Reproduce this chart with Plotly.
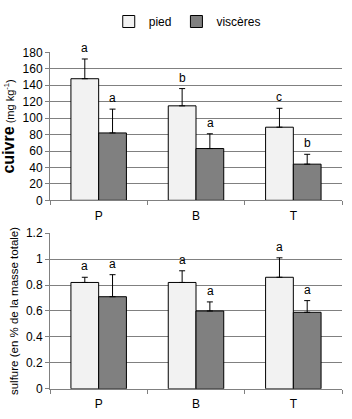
import plotly.graph_objects as go

sites = ["P", "B", "T"]
series_names = ["pied", "viscères"]

cu_pied = [148, 115, 89]
cu_pied_err = [24, 21, 23]
cu_visc = [82, 63, 44]
cu_visc_err = [29, 18, 12]
cu_pied_letters = ["a", "b", "c"]
cu_visc_letters = ["a", "a", "b"]

s_pied = [0.82, 0.82, 0.86]
s_pied_err = [0.04, 0.09, 0.15]
s_visc = [0.71, 0.60, 0.59]
s_visc_err = [0.17, 0.07, 0.09]
s_pied_letters = ["a", "a", "a"]
s_visc_letters = ["a", "a", "a"]

colors = ["#f2f2f2", "#808080"]
FONT = "Liberation Sans, Arial, sans-serif"

fig = go.Figure()

def add_bars(vals, errs, name, color, xa, ya, show):
    fig.add_trace(go.Bar(
        x=sites, y=vals, name=name, xaxis=xa, yaxis=ya, showlegend=show,
        legendgroup=name, offsetgroup=name,
        marker=dict(color=color, line=dict(color="black", width=1)),
        error_y=dict(type="data", array=errs, arrayminus=[0] * len(errs), symmetric=False,
                     color="black", thickness=1, width=3),
    ))

add_bars(cu_pied, cu_pied_err, series_names[0], colors[0], "x", "y", True)
add_bars(cu_visc, cu_visc_err, series_names[1], colors[1], "x", "y", True)
add_bars(s_pied, s_pied_err, series_names[0], colors[0], "x2", "y2", False)
add_bars(s_visc, s_visc_err, series_names[1], colors[1], "x2", "y2", False)

annotations = []
def add_letters(vals, errs, letters, xref, yref, shift):
    for s, v, e, l in zip(sites, vals, errs, letters):
        annotations.append(dict(x=s, y=v + e, xref=xref, yref=yref, text=l, showarrow=False,
                                xshift=shift, yshift=2, yanchor="bottom",
                                font=dict(family=FONT, size=12, color="black")))

add_letters(cu_pied, cu_pied_err, cu_pied_letters, "x", "y", -14)
add_letters(cu_visc, cu_visc_err, cu_visc_letters, "x", "y", 14)
add_letters(s_pied, s_pied_err, s_pied_letters, "x2", "y2", -14)
add_letters(s_visc, s_visc_err, s_visc_letters, "x2", "y2", 14)

H = 419
def dom(top, bottom):
    return [1 - bottom / H, 1 - top / H]

xcommon = dict(type="category", showgrid=False, showline=True, linecolor="#808080", linewidth=1,
               ticks="outside", tickson="boundaries", ticklen=4, tickcolor="#808080",
               tickfont=dict(family=FONT, size=12, color="black"), ticklabelstandoff=4)
ycommon = dict(showgrid=True, gridcolor="#808080", gridwidth=1, showline=True, linecolor="#808080",
               ticks="outside", ticklen=4, tickcolor="#808080", zeroline=False,
               tickfont=dict(family=FONT, size=12, color="black"))

fig.update_layout(
    width=352, height=H,
    margin=dict(l=50, r=10, t=0, b=0),
    paper_bgcolor="white", plot_bgcolor="white",
    barmode="group", bargap=0.43, bargroupgap=0,
    font=dict(family=FONT, size=12, color="black"),
    showlegend=True,
    legend=dict(orientation="h", x=0.47, xanchor="center", y=1.0, yanchor="top",
                font=dict(family=FONT, size=12, color="black"), itemwidth=30,
                traceorder="normal", bgcolor="rgba(0,0,0,0)"),
    xaxis=dict(domain=[0, 1], anchor="y", **xcommon),
    yaxis=dict(domain=dom(47, 200), anchor="x", range=[0, 180], dtick=20,
               title=dict(text="<b>cuivre</b><span style='font-size:11px'> (mg kg<sup>-1</sup>)</span>",
                          font=dict(family=FONT, size=16, color="black"), standoff=6), **ycommon),
    xaxis2=dict(domain=[0, 1], anchor="y2", **xcommon),
    yaxis2=dict(domain=dom(234, 395), anchor="x2", range=[0, 1.2], dtick=0.2,
                tickvals=[0, 0.2, 0.4, 0.6, 0.8, 1, 1.2], ticktext=["0", "0.2", "0.4", "0.6", "0.8", "1", "1.2"],
                title=dict(text="sulfure (en % de la masse totale)",
                           font=dict(family=FONT, size=11.5, color="black"), standoff=4), **ycommon),
    annotations=annotations,
)

fig.write_html("out.html")
